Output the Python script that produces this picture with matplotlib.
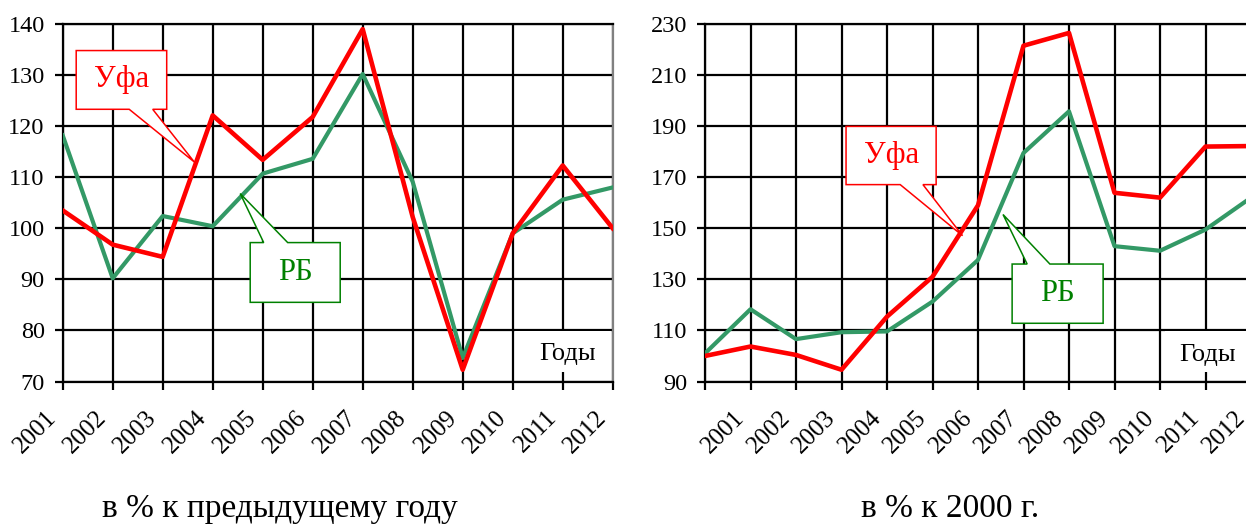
import matplotlib
matplotlib.use("Agg")
import matplotlib.pyplot as plt
import matplotlib.transforms as mtransforms
from matplotlib.patches import Polygon, Rectangle

plt.rcParams['font.family'] = ['Liberation Serif', 'DejaVu Serif']

# left panel: % to previous year
years_prev = [2001, 2002, 2003, 2004, 2005, 2006, 2007, 2008, 2009, 2010, 2011, 2012]
ufa_prev = [103.5, 96.8, 94.4, 122.1, 113.4, 121.8, 139.0, 102.2, 72.3, 99.0, 112.3, 100.0]
rb_prev = [118.2, 90.2, 102.4, 100.4, 110.7, 113.6, 130.2, 109.1, 74.6, 99.0, 105.6, 108.0]

# right panel: % to 2000
years_base = [2000, 2001, 2002, 2003, 2004, 2005, 2006, 2007, 2008, 2009, 2010, 2011, 2012]
year_labels_base = [''] + [str(y) for y in years_base[1:]]
ufa_base = [100.0, 103.7, 100.4, 94.6, 115.4, 131.0, 159.0, 221.5, 226.5, 163.9, 162.0, 182.0, 182.2]
rb_base = [101.0, 118.3, 106.6, 109.3, 109.6, 121.3, 137.6, 179.5, 195.8, 143.0, 141.2, 149.5, 162.0]

RED = '#ff0000'
GREEN = '#339966'
GREEN_DARK = '#008000'

fig = plt.figure(figsize=(12.46, 5.24), dpi=100)
ax1 = fig.add_axes([62.7 / 1246, 142.5 / 524, 550 / 1246, 357.5 / 524])
ax2 = fig.add_axes([705 / 1246, 142.5 / 524, 546 / 1246, 357.5 / 524])


def style_axis(ax, x, labels, ylim, ystep):
    ax.set_xlim(x[0], x[-1])
    ax.set_ylim(*ylim)
    ax.set_xticks(x)
    ax.set_xticklabels(labels, rotation=45, ha='right', va='top', rotation_mode='anchor')
    ax.set_yticks(range(ylim[0], ylim[1] + 1, ystep))
    ax.grid(True, color='black', linewidth=1.6, zorder=1)
    ax.set_axisbelow(True)
    ax.tick_params(direction='out', length=6, width=1.6, labelsize=17.5, colors='black')
    ax.tick_params(axis='x', pad=12, labelsize=18)
    ax.tick_params(axis='y', pad=7)
    shift = mtransforms.ScaledTranslation(-17 / 100, 0, fig.dpi_scale_trans)
    for lab in ax.get_xticklabels():
        lab.set_transform(lab.get_transform() + shift)
    for side in ['left', 'bottom', 'top']:
        ax.spines[side].set_color('black')
        ax.spines[side].set_linewidth(1.6)
    ax.spines['right'].set_color('#808080')
    ax.spines['right'].set_linewidth(1.6)


def callout(ax, box, base, tip, color, text, tcolor, top_pointer):
    x0, x1, y0, y1 = box  # y0 bottom, y1 top
    b0, b1 = base
    if top_pointer:
        pts = [(x0, y0), (x1, y0), (x1, y1), (b1, y1), tip, (b0, y1), (x0, y1)]
    else:
        pts = [(x0, y1), (x1, y1), (x1, y0), (b1, y0), tip, (b0, y0), (x0, y0)]
    ax.add_patch(Polygon(pts, closed=True, facecolor='white', edgecolor=color,
                         linewidth=1.1, zorder=5))
    ax.text((x0 + x1) / 2, (y0 + y1) / 2, text, color=tcolor, fontsize=22,
            ha='center', va='center', zorder=6)


def years_box(ax, x0, x1, y0, y1, tx, ty):
    ax.add_patch(Rectangle((x0, y0), x1 - x0, y1 - y0, facecolor='white',
                           edgecolor='none', zorder=4, clip_on=False))
    ax.text(tx, ty, 'Годы', fontsize=19, ha='center', va='center', zorder=6)


# left chart
style_axis(ax1, years_prev, [str(y) for y in years_prev], (70, 140), 10)
ax1.plot(years_prev, rb_prev, color=GREEN, linewidth=3.0, zorder=3)
ax1.plot(years_prev, ufa_prev, color=RED, linewidth=3.3, zorder=3.5)
years_box(ax1, 2010.05, 2011.96, 71.9, 79.8, 2011.1, 75.3)
callout(ax1, (2001.27, 2003.08, 123.3, 134.8), (2002.33, 2002.80), (2003.63, 113.0),
        RED, 'Уфа', RED, False)
callout(ax1, (2004.75, 2006.55, 85.5, 97.2), (2005.02, 2005.50), (2004.55, 106.8),
        GREEN_DARK, 'РБ', GREEN_DARK, True)

# right chart
style_axis(ax2, years_base, year_labels_base, (90, 230), 20)
ax2.plot(years_base, rb_base, color=GREEN, linewidth=3.0, zorder=3)
ax2.plot(years_base, ufa_base, color=RED, linewidth=3.3, zorder=3.5)
years_box(ax2, 2010.11, 2012.5, 93.7, 109.7, 2011.04, 100.4)
callout(ax2, (2003.10, 2005.08, 167.1, 189.9), (2004.29, 2004.79), (2005.66, 147.1),
        RED, 'Уфа', RED, False)
callout(ax2, (2006.75, 2008.75, 112.8, 136.0), (2007.08, 2007.58), (2006.55, 155.4),
        GREEN_DARK, 'РБ', GREEN_DARK, True)

fig.text(280 / 1246, 7 / 524, 'в % к предыдущему году', fontsize=24, ha='center', va='baseline')
fig.text(950 / 1246, 7 / 524, 'в % к 2000 г.', fontsize=24, ha='center', va='baseline')

fig.savefig('out.png', dpi=100)
